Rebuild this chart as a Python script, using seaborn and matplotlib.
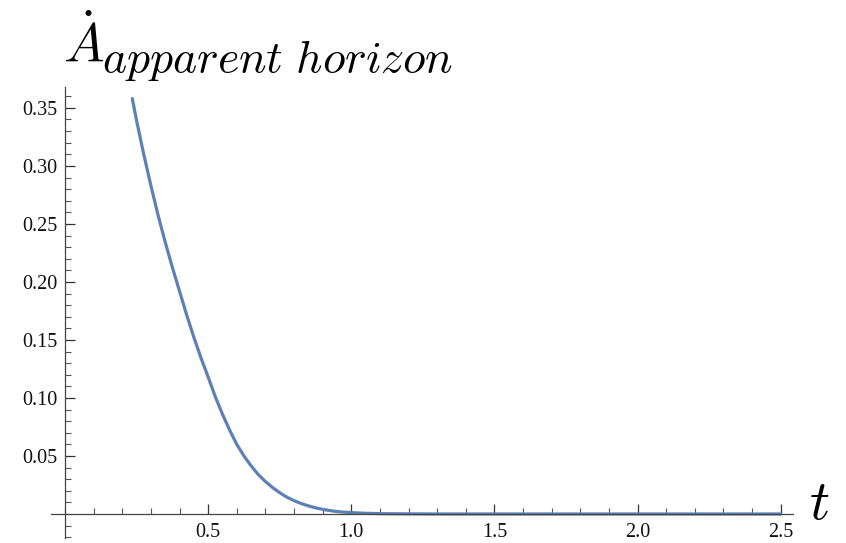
import numpy as np
import pandas as pd
import seaborn as sns
import matplotlib.pyplot as plt
from matplotlib.ticker import MultipleLocator, FixedLocator

# values
t = [0.235, 0.25, 0.275, 0.30, 0.325, 0.35, 0.375, 0.40, 0.425, 0.45, 0.475,
     0.50, 0.525, 0.55, 0.575, 0.60, 0.625, 0.65, 0.675, 0.70, 0.725, 0.75,
     0.775, 0.80, 0.825, 0.85, 0.875, 0.90, 0.925, 0.95, 0.975, 1.00,
     1.05, 1.10, 1.20, 1.30, 1.50, 2.00, 2.50]
adot = [0.358, 0.339, 0.310, 0.283, 0.2575, 0.2343, 0.2125, 0.192, 0.1715, 0.1523, 0.1345,
        0.118, 0.101, 0.086, 0.0723, 0.060, 0.050, 0.0415, 0.034, 0.028, 0.0228, 0.0183,
        0.0145, 0.0115, 0.009, 0.007, 0.0053, 0.004, 0.00295, 0.0021, 0.00155, 0.0012,
        0.0006, 0.0003, 0.0001, 0.0, 0.0, 0.0, 0.0]

x_major = [0.5, 1.0, 1.5, 2.0, 2.5]
x_labels = ["0.5", "1.0", "1.5", "2.0", "2.5"]
y_major = [0.05, 0.10, 0.15, 0.20, 0.25, 0.30, 0.35]
y_labels = ["0.05", "0.10", "0.15", "0.20", "0.25", "0.30", "0.35"]

df = pd.DataFrame({"t": t, "Adot": adot})

sns.set_style("white")
plt.rcParams['mathtext.fontset'] = 'cm'
plt.rcParams['font.family'] = ['Liberation Serif']

fig = plt.figure(figsize=(8.46, 5.43), dpi=100)
ax = fig.add_axes([51/846, 5/543, 742/846, 451/543])

sns.lineplot(data=df, x="t", y="Adot", ax=ax, color="#5E81B5", linewidth=2.3)

ax.set_xlim(-0.049, 2.543)
ax.set_ylim(-0.0207, 0.368)

for s in ["top", "right"]:
    ax.spines[s].set_visible(False)
ax.spines["left"].set_position(("data", 0))
ax.spines["bottom"].set_position(("data", 0))
for s in ["left", "bottom"]:
    ax.spines[s].set_color("#444444")
    ax.spines[s].set_linewidth(0.9)

ax.xaxis.set_major_locator(FixedLocator(x_major))
ax.xaxis.set_minor_locator(MultipleLocator(0.1))
ax.yaxis.set_major_locator(FixedLocator(y_major))
ax.yaxis.set_minor_locator(MultipleLocator(0.01))
ax.set_xticklabels(x_labels)
ax.set_yticklabels(y_labels)

ax.tick_params(axis="both", which="both", bottom=True, left=True, top=False, right=False)
ax.tick_params(axis="both", which="major", direction="in", length=7, width=0.9,
               color="#333333", labelsize=14.5, labelcolor="#111111")
ax.tick_params(axis="both", which="minor", direction="in", length=4, width=0.8,
               color="#555555")
ax.tick_params(axis="x", which="both", pad=6.5)
ax.tick_params(axis="y", which="both", pad=5.5)

ax.set_xlabel("")
ax.set_ylabel("")
fig.text(63/846, 1 - 63/543, r"$\dot{A}$", fontsize=39, color="black",
         ha="left", va="baseline")
fig.text(102/846, 1 - 72/543, r"$apparent\ horizon$", fontsize=33, color="black",
         ha="left", va="baseline")
fig.text(809/846, 1 - 519/543, r"$t$", fontsize=40, color="black",
         ha="left", va="baseline")

fig.savefig("out.png", dpi=100)
